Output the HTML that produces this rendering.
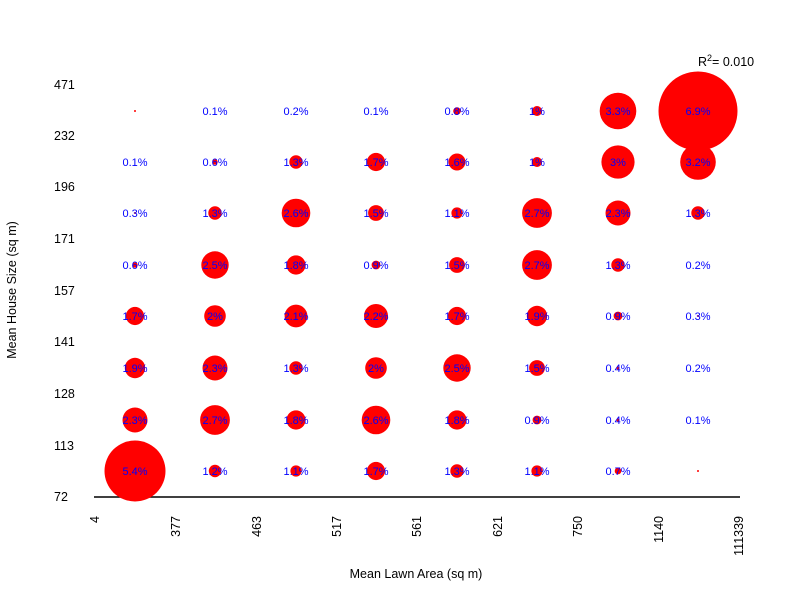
<!DOCTYPE html>
<html><head><meta charset="utf-8"><style>body{margin:0;background:#fff}svg{display:block}text{font-family:"Liberation Sans",sans-serif}</style></head><body>
<svg width="800" height="600" xmlns="http://www.w3.org/2000/svg">
<line x1="94" y1="497" x2="740" y2="497" stroke="#000" stroke-width="1.5"/>
<g fill="#f00">
<circle cx="135" cy="111" r="1"/><circle cx="457" cy="111" r="3.8"/><circle cx="537" cy="111" r="5"/><circle cx="618" cy="111" r="18.3"/><circle cx="698" cy="111" r="39.5"/>
<circle cx="215" cy="162" r="2.7"/><circle cx="296" cy="162" r="6.7"/><circle cx="376" cy="162" r="9.1"/><circle cx="457" cy="162" r="8.5"/><circle cx="537" cy="162" r="5"/><circle cx="618" cy="162" r="16.6"/><circle cx="698" cy="162" r="17.8"/>
<circle cx="135" cy="213" r="1"/><circle cx="215" cy="213" r="6.7"/><circle cx="296" cy="213" r="14.3"/><circle cx="376" cy="213" r="7.9"/><circle cx="457" cy="213" r="5.6"/><circle cx="537" cy="213" r="14.9"/><circle cx="618" cy="213" r="12.5"/><circle cx="698" cy="213" r="6.7"/>
<circle cx="135" cy="265" r="2.7"/><circle cx="215" cy="265" r="13.7"/><circle cx="296" cy="265" r="9.6"/><circle cx="376" cy="265" r="4.4"/><circle cx="457" cy="265" r="7.9"/><circle cx="537" cy="265" r="14.9"/><circle cx="618" cy="265" r="6.7"/>
<circle cx="135" cy="316" r="9.1"/><circle cx="215" cy="316" r="10.8"/><circle cx="296" cy="316" r="11.4"/><circle cx="376" cy="316" r="12"/><circle cx="457" cy="316" r="9.1"/><circle cx="537" cy="316" r="10.2"/><circle cx="618" cy="316" r="4.4"/><circle cx="698" cy="316" r="1"/>
<circle cx="135" cy="368" r="10.2"/><circle cx="215" cy="368" r="12.5"/><circle cx="296" cy="368" r="6.7"/><circle cx="376" cy="368" r="10.8"/><circle cx="457" cy="368" r="13.7"/><circle cx="537" cy="368" r="7.9"/><circle cx="618" cy="368" r="1.5"/>
<circle cx="135" cy="420" r="12.5"/><circle cx="215" cy="420" r="14.9"/><circle cx="296" cy="420" r="9.6"/><circle cx="376" cy="420" r="14.3"/><circle cx="457" cy="420" r="9.6"/><circle cx="537" cy="420" r="4.4"/><circle cx="618" cy="420" r="1.5"/>
<circle cx="135" cy="471" r="30.5"/><circle cx="215" cy="471" r="6.2"/><circle cx="296" cy="471" r="5.6"/><circle cx="376" cy="471" r="9.1"/><circle cx="457" cy="471" r="6.7"/><circle cx="537" cy="471" r="5.6"/><circle cx="618" cy="471" r="3.3"/><circle cx="698" cy="471" r="1"/>
</g>
<g font-size="11" fill="#00f" text-anchor="middle">
<text x="215" y="115">0.1%</text><text x="296" y="115">0.2%</text><text x="376" y="115">0.1%</text><text x="457" y="115">0.8%</text><text x="537" y="115">1%</text><text x="618" y="115">3.3%</text><text x="698" y="115">6.9%</text>
<text x="135" y="166">0.1%</text><text x="215" y="166">0.6%</text><text x="296" y="166">1.3%</text><text x="376" y="166">1.7%</text><text x="457" y="166">1.6%</text><text x="537" y="166">1%</text><text x="618" y="166">3%</text><text x="698" y="166">3.2%</text>
<text x="135" y="217">0.3%</text><text x="215" y="217">1.3%</text><text x="296" y="217">2.6%</text><text x="376" y="217">1.5%</text><text x="457" y="217">1.1%</text><text x="537" y="217">2.7%</text><text x="618" y="217">2.3%</text><text x="698" y="217">1.3%</text>
<text x="135" y="269">0.6%</text><text x="215" y="269">2.5%</text><text x="296" y="269">1.8%</text><text x="376" y="269">0.9%</text><text x="457" y="269">1.5%</text><text x="537" y="269">2.7%</text><text x="618" y="269">1.3%</text><text x="698" y="269">0.2%</text>
<text x="135" y="320">1.7%</text><text x="215" y="320">2%</text><text x="296" y="320">2.1%</text><text x="376" y="320">2.2%</text><text x="457" y="320">1.7%</text><text x="537" y="320">1.9%</text><text x="618" y="320">0.9%</text><text x="698" y="320">0.3%</text>
<text x="135" y="372">1.9%</text><text x="215" y="372">2.3%</text><text x="296" y="372">1.3%</text><text x="376" y="372">2%</text><text x="457" y="372">2.5%</text><text x="537" y="372">1.5%</text><text x="618" y="372">0.4%</text><text x="698" y="372">0.2%</text>
<text x="135" y="424">2.3%</text><text x="215" y="424">2.7%</text><text x="296" y="424">1.8%</text><text x="376" y="424">2.6%</text><text x="457" y="424">1.8%</text><text x="537" y="424">0.9%</text><text x="618" y="424">0.4%</text><text x="698" y="424">0.1%</text>
<text x="135" y="475">5.4%</text><text x="215" y="475">1.2%</text><text x="296" y="475">1.1%</text><text x="376" y="475">1.7%</text><text x="457" y="475">1.3%</text><text x="537" y="475">1.1%</text><text x="618" y="475">0.7%</text>
</g>
<g font-size="12.5" fill="#000" text-anchor="start">
<text x="54" y="89">471</text><text x="54" y="140">232</text><text x="54" y="191">196</text><text x="54" y="243">171</text><text x="54" y="295">157</text><text x="54" y="346">141</text><text x="54" y="398">128</text><text x="54" y="450">113</text><text x="54" y="501">72</text>
</g>
<g font-size="12.5" fill="#000" text-anchor="end">
<text transform="translate(99,516) rotate(-90)">4</text>
<text transform="translate(180,516) rotate(-90)">377</text>
<text transform="translate(261,516) rotate(-90)">463</text>
<text transform="translate(341,516) rotate(-90)">517</text>
<text transform="translate(421,516) rotate(-90)">561</text>
<text transform="translate(502,516) rotate(-90)">621</text>
<text transform="translate(582,516) rotate(-90)">750</text>
<text transform="translate(663,516) rotate(-90)">1140</text>
<text transform="translate(743,516) rotate(-90)">111339</text>
</g>
<text x="416" y="578" font-size="12.5" text-anchor="middle">Mean Lawn Area (sq m)</text>
<text transform="translate(16,290) rotate(-90)" font-size="12.5" text-anchor="middle">Mean House Size (sq m)</text>
<text x="698" y="66" font-size="12.5">R<tspan font-size="9" dy="-5">2</tspan><tspan dy="5">= 0.010</tspan></text>
</svg>
</body></html>
